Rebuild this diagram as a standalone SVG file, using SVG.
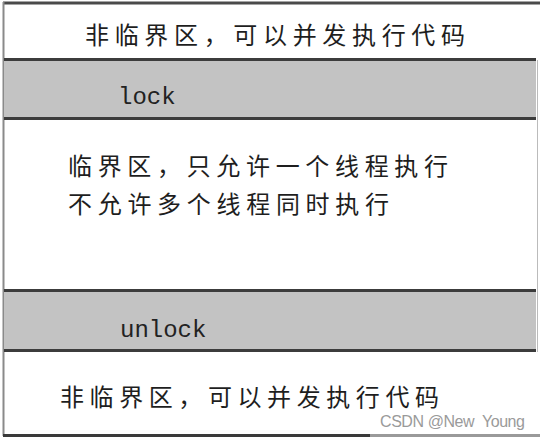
<svg xmlns="http://www.w3.org/2000/svg" width="540" height="438" viewBox="0 0 540 438">
<style>
.cjk{font-family:"Noto Sans CJK SC","Noto Sans",sans-serif;font-size:24px;fill:#1e1e1e;}
.mono{font-family:"Liberation Mono","DejaVu Sans Mono",monospace;font-size:24px;fill:#222;}
.band{fill:#c3c3c3;}
.edge{stroke:#3c3c3c;stroke-width:3;fill:none;}
.wm{font-family:"Liberation Sans",Arial,sans-serif;font-size:16px;fill:#9a9a9a;}
</style>
<rect x="0" y="0" width="540" height="438" fill="#ffffff"/>
<g id="frame">
<line x1="3" y1="3" x2="540" y2="3" stroke="#4a4a4a" stroke-width="3"/>
<line x1="3.5" y1="2" x2="3.5" y2="436" stroke="#8a8a8a" stroke-width="2"/>
<line x1="3" y1="435.5" x2="370" y2="435.5" stroke="#3a3a3a" stroke-width="3"/>
<line x1="370" y1="435.5" x2="540" y2="435.5" stroke="#9a9a9a" stroke-width="3"/>
<line x1="537.5" y1="60" x2="537.5" y2="352" stroke="#bbbbbb" stroke-width="1"/>
</g>
<g id="top-noncritical">
<text class="cjk" x="85" y="44" textLength="380" lengthAdjust="spacing">非临界区，可以并发执行代码</text>
</g>
<g id="lock">
<rect class="band" x="4" y="60" width="532" height="58"/>
<line class="edge" x1="4" y1="59.5" x2="536" y2="59.5"/>
<line class="edge" x1="4" y1="118.5" x2="536" y2="118.5"/>
<text class="mono" x="118" y="104">lock</text>
</g>
<g id="critical">
<text class="cjk" x="68" y="175" textLength="380" lengthAdjust="spacing">临界区，只允许一个线程执行</text>
<text class="cjk" x="68" y="213" textLength="321" lengthAdjust="spacing">不允许多个线程同时执行</text>
</g>
<g id="unlock">
<rect class="band" x="4" y="291" width="532" height="59"/>
<line class="edge" x1="4" y1="290.5" x2="536" y2="290.5"/>
<line class="edge" x1="4" y1="350.5" x2="536" y2="350.5"/>
<text class="mono" x="120" y="337">unlock</text>
</g>
<g id="bottom-noncritical">
<text class="cjk" x="60" y="406" textLength="379" lengthAdjust="spacing">非临界区，可以并发执行代码</text>
</g>
<text class="wm" x="380" y="427" textLength="145" lengthAdjust="spacing" xml:space="preserve">CSDN @New  Young</text>
</svg>
